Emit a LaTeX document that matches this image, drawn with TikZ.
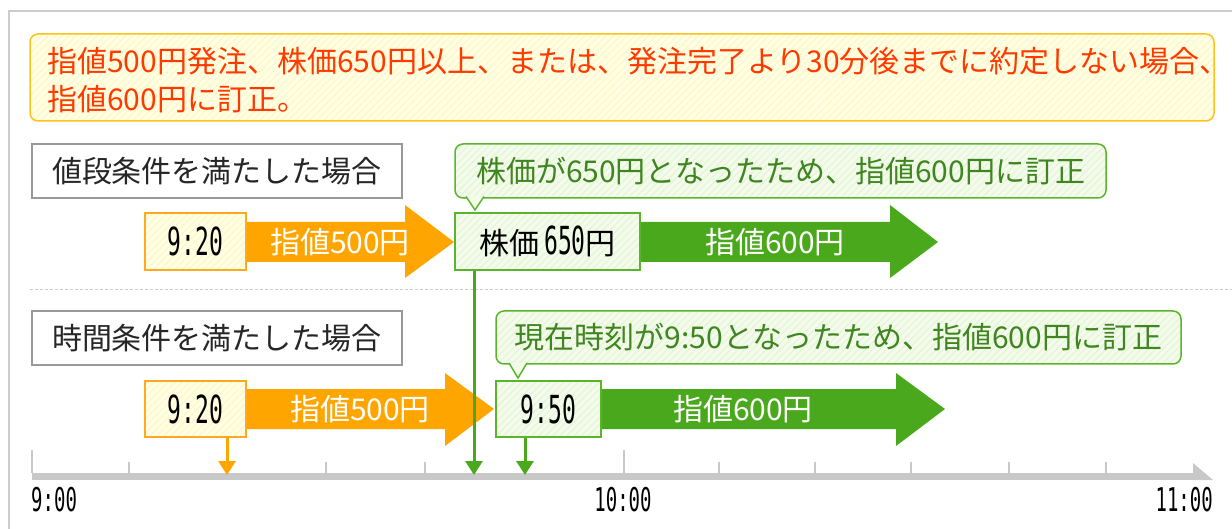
\documentclass[tikz,border=0pt]{standalone}
\usepackage{fontspec}
\usepackage{graphicx}
\setmainfont{Noto Sans CJK JP}
\newfontfamily\monof{DejaVu Sans Mono}
\usetikzlibrary{arrows.meta,patterns.meta}
\definecolor{orangeA}{HTML}{FFA500}
\definecolor{orangeB}{HTML}{FFA820}
\definecolor{yborder}{HTML}{FFC21A}
\definecolor{yfill}{HTML}{FFFFE4}
\definecolor{ystripe}{HTML}{FFF4C0}
\definecolor{greenA}{HTML}{4AA81C}
\definecolor{greenB}{HTML}{5BB52C}
\definecolor{gfill}{HTML}{F3FBEA}
\definecolor{gstripe}{HTML}{E2F2D2}
\definecolor{gtext}{HTML}{3F8520}
\definecolor{redt}{HTML}{FF3A00}
\definecolor{grayB}{HTML}{999999}
\definecolor{framec}{HTML}{CCCCCC}
\definecolor{axisc}{HTML}{C8C8C8}
\newcommand{\tnum}[1]{\scalebox{1}[1.68]{\fontsize{23}{23}\selectfont\monof #1}}
\newcommand{\tlab}[1]{\scalebox{1}[1.72]{\fontsize{19}{19}\selectfont\monof #1}}
\tikzset{
  jp/.style={font=\fontsize{30}{38}\selectfont},
  tbox/.style={draw=orangeB, line width=1.5pt, preaction={fill=yfill},
    pattern={Lines[angle=45,distance=5pt,line width=0.8pt]}, pattern color=ystripe,
    minimum height=57pt, inner sep=0pt},
  gbox/.style={draw=greenB, line width=1.5pt, preaction={fill=gfill},
    pattern={Lines[angle=45,distance=5pt,line width=0.8pt]}, pattern color=gstripe,
    minimum height=57pt, inner sep=0pt},
  hdbox/.style={draw=grayB, line width=1.5pt, fill=white, minimum width=370pt,
    minimum height=54pt, inner sep=0pt, jp, text=black!85},
  callout/.style={draw=greenB, line width=1.5pt, rounded corners=8pt, preaction={fill=gfill},
    pattern={Lines[angle=45,distance=5pt,line width=0.8pt]}, pattern color=gstripe,
    minimum height=54pt, inner sep=0pt, jp, text=gtext},
  arrtext/.style={jp, text=white, inner sep=0pt},
  conn/.style={line width=3pt, -{Triangle[width=17pt,length=14pt]}},
  tick/.style={draw=axisc, line width=1.5pt}
}
\begin{document}
\begin{tikzpicture}[x=1pt,y=-1pt]
\useasboundingbox (0,0) rectangle (1232,529);
% frame
\draw[framec, line width=2pt] (1232,11) -- (9,11) -- (9,529);
% top condition box
\draw[yborder, line width=1.5pt, rounded corners=8pt, preaction={fill=yfill},
  pattern={Lines[angle=45,distance=5pt,line width=0.8pt]}, pattern color=ystripe]
  (30,34) rectangle (1214,121);
\node[jp, text=redt, anchor=west, align=left, inner sep=0pt] (cond) at (47,80)
  {指値500円発注、株価650円以上、または、発注完了より30分後までに約定しない場合、\\指値600円に訂正。};
% separator
\draw[framec, line width=1pt, dash pattern=on 3pt off 2pt] (30,290) -- (1232,290);

% ---- row 1
\node[hdbox] (hd1) at (217,171) {値段条件を満たした場合};
\node[callout, minimum width=651pt] (c1) at (780.5,171) {株価が650円となったため、指値600円に訂正};
\filldraw[draw=greenB, fill=gfill, line width=1.5pt] (466,196.5) -- (475,210) -- (484,196.5);
\fill[orangeA] (246,222) -- (405,222) -- (405,205) -- (454,242) -- (405,278) -- (405,262) -- (246,262) -- cycle;
\fill[greenA] (640,222) -- (890,222) -- (890,205) -- (938,242) -- (890,278) -- (890,262) -- (640,262) -- cycle;
\node[tbox, minimum width=101pt] (t1) at (195.5,241.5) {\tnum{9:20}};
\node[gbox, minimum width=185pt] (kb) at (547.5,241.5) {\fontsize{30}{30}\selectfont 株価\,\tnum{650}円};
\node[arrtext] (a1) at (340,242) {指値500円};
\node[arrtext] (a2) at (775,242) {指値600円};

% ---- row 2
\node[hdbox] (hd2) at (217,338) {時間条件を満たした場合};
\node[callout, minimum width=685pt, minimum height=53pt] (c2) at (838.5,337.5) {現在時刻が9:50となったため、指値600円に訂正};
\filldraw[draw=greenB, fill=gfill, line width=1.5pt] (509,363) -- (518,378) -- (527,363);
\fill[orangeA] (246,389) -- (445,389) -- (445,373) -- (494,409) -- (445,446) -- (445,429) -- (246,429) -- cycle;
\fill[greenA] (601,389) -- (896,389) -- (896,373) -- (945,409) -- (896,446) -- (896,429) -- (601,429) -- cycle;
\node[tbox, minimum width=101pt, minimum height=56pt] (t2) at (195.5,409) {\tnum{9:20}};
\node[gbox, minimum width=105pt, minimum height=56pt] (t3) at (548.5,409) {\tnum{9:50}};
\node[arrtext] (a3) at (360,409) {指値500円};
\node[arrtext] (a4) at (743,409) {指値600円};

% ---- time axis
\fill[axisc] (32,473) rectangle (1194,480);
\fill[axisc] (1193,463) -- (1213,480) -- (1193,480) -- cycle;
\foreach \x in {32,624} \draw[tick] (\x,450) -- (\x,473);
\foreach \x in {129,227,326,425,525,719,815,911,1009,1106} \draw[tick] (\x,462) -- (\x,473);
\coordinate (p920) at (227,475);
\coordinate (p945) at (474,475);
\coordinate (p950) at (525,475);
\node[anchor=west, inner sep=0pt] (l9) at (31,500) {\tlab{9:00}};
\node[inner sep=0pt] (l10) at (623,500) {\tlab{10:00}};
\node[anchor=east, inner sep=0pt] (l11) at (1213,500) {\tlab{11:00}};

% ---- connectors
\draw[conn, orangeA] (t2.south -| p920) -- (p920);
\draw[conn, greenA] (kb.south -| p945) -- (p945);
\draw[conn, greenA] (t3.south -| p950) -- (p950);
\end{tikzpicture}
\end{document}
